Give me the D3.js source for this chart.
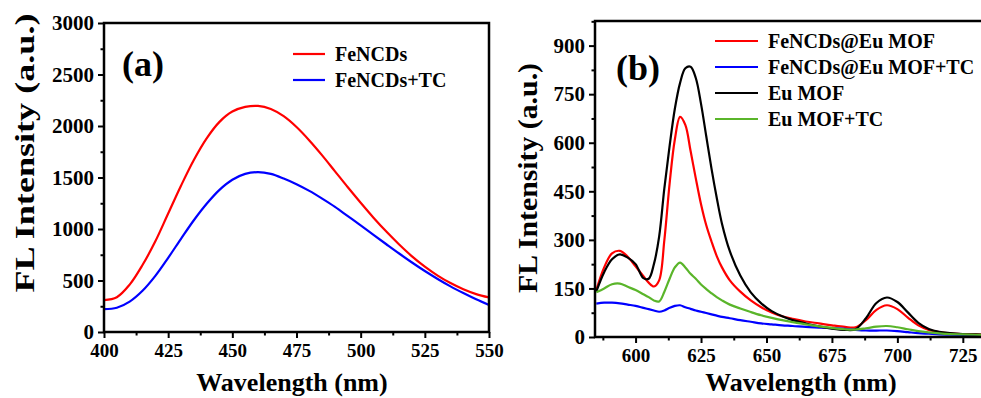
<!DOCTYPE html>
<html>
<head>
  <style>
    body {
      margin: 0;
      background: white;
    }
    text {
      font-family: "Times New Roman", "Liberation Serif", serif;
      font-weight: bold;
      fill: black;
    }
  </style>
</head>
<body>
  <script src="https://d3js.org/d3.v7.min.js"></script>
  <script>
    // panel (a) data
    var wlA = [400, 405, 410, 415, 420, 425, 430, 435, 440, 445, 450, 455, 460, 465, 470, 475,
               480, 485, 490, 495, 500, 505, 510, 515, 520, 525, 530, 535, 540, 545, 550];
    var feNCDs = [310, 338, 460, 650, 880, 1150, 1420, 1670, 1880, 2040, 2140, 2185, 2195, 2165, 2095, 1990,
                  1860, 1715, 1560, 1405, 1255, 1110, 975, 850, 735, 635, 548, 475, 415, 368, 335];
    var feNCDsTC = [223, 236, 295, 400, 545, 720, 905, 1085, 1245, 1380, 1478, 1535, 1552, 1535, 1490, 1435,
                    1370, 1295, 1215, 1125, 1035, 943, 852, 762, 675, 592, 515, 443, 378, 317, 262];
    var namesA = ["FeNCDs", "FeNCDs+TC"];
    var colorsA = ["#ff0000", "#0000ff"];
    var xTicksA = [400, 425, 450, 475, 500, 525, 550];
    var yTicksA = [0, 500, 1000, 1500, 2000, 2500, 3000];

    // panel (b) data
    var wlB = [585, 588, 591, 594, 597, 600, 603, 605, 607, 609, 611, 613, 615, 617, 619, 621, 623, 625,
               627, 629, 631, 633, 636, 640, 644, 648, 652, 656, 660, 665, 670, 675, 680, 684, 688, 692,
               696, 700, 704, 708, 712, 716, 720, 725, 730, 735];
    var euRed = [145, 215, 258, 266, 248, 218, 188, 168, 156, 175, 300, 474, 610, 680, 655, 575, 490, 410,
                 345, 295, 250, 215, 175, 140, 113, 92, 76, 64, 56, 48, 42, 36, 31, 30, 52, 84,
                 98, 86, 60, 36, 22, 15, 11, 9, 8, 7];
    var euRedTC = [103, 106, 106, 104, 100, 96, 90, 86, 82, 78, 82, 90, 96, 98, 92, 87, 82, 78,
                   74, 70, 66, 62, 58, 52, 47, 42, 39, 36, 34, 31, 29, 27, 25, 22, 20, 20,
                   20, 18, 15, 12, 10, 8, 7, 6, 5, 5];
    var euMOF = [140, 200, 240, 255, 245, 225, 182, 180, 225, 310, 460, 590, 705, 785, 830, 835, 800, 720,
                 620, 520, 430, 350, 265, 190, 138, 104, 80, 64, 52, 42, 33, 26, 22, 24, 58, 105,
                 122, 108, 76, 44, 25, 16, 12, 9, 8, 7];
    var euMOFTC = [138, 150, 163, 165, 155, 145, 132, 123, 113, 110, 140, 180, 215, 230, 215, 195, 180, 162,
                   148, 135, 123, 113, 100, 88, 77, 67, 59, 52, 46, 39, 33, 28, 24, 23, 27, 32,
                   34, 30, 24, 18, 14, 11, 9, 8, 7, 6];
    var namesB = ["FeNCDs@Eu MOF", "FeNCDs@Eu MOF+TC", "Eu MOF", "Eu MOF+TC"];
    var colorsB = ["#ff0000", "#0000ff", "#000000", "#5ab52a"];
    var xTicksB = [600, 625, 650, 675, 700, 725];
    var yTicksB = [0, 150, 300, 450, 600, 750, 900];

    var svg = d3.select("body").append("svg")
        .attr("width", 981).attr("height", 398);
    svg.append("rect").attr("width", 981).attr("height", 398).attr("fill", "white");

    function panel(opt) {
      var x = d3.scaleLinear().domain(opt.xDomain).range([opt.left, opt.right]);
      var y = d3.scaleLinear().domain(opt.yDomain).range([opt.bottom, opt.top]);
      var g = svg.append("g");

      g.append("clipPath").attr("id", opt.id)
        .append("rect")
        .attr("x", opt.left).attr("y", opt.top)
        .attr("width", opt.right - opt.left).attr("height", opt.bottom - opt.top);

      // minor ticks
      var xMinor = opt.xTicks.map(d => d + opt.xStep / 2).concat([opt.xTicks[0] - opt.xStep / 2])
        .filter(d => d > opt.xDomain[0] && d < opt.xDomain[1]);
      var yMinor = opt.yTicks.map(d => d + opt.yStep / 2).filter(d => d < opt.yDomain[1]);

      g.append("g").attr("transform", "translate(0," + opt.bottom + ")")
        .attr("class", "xaxis")
        .call(d3.axisBottom(x).tickValues(opt.xTicks).tickSize(6).tickPadding(6).tickFormat(d3.format("d")));
      g.append("g").attr("transform", "translate(0," + opt.bottom + ")")
        .call(d3.axisBottom(x).tickValues(xMinor).tickSize(3.5).tickFormat(""));
      g.append("g").attr("transform", "translate(" + opt.left + ",0)")
        .attr("class", "yaxis")
        .call(d3.axisLeft(y).tickValues(opt.yTicks).tickSize(6).tickPadding(4).tickFormat(d3.format("d")));
      g.append("g").attr("transform", "translate(" + opt.left + ",0)")
        .call(d3.axisLeft(y).tickValues(yMinor).tickSize(3.5).tickFormat(""));

      g.selectAll(".domain").remove();
      g.selectAll(".tick line").attr("stroke", "black").attr("stroke-width", 2);
      g.selectAll(".tick text")
        .style("font-family", "'Times New Roman', 'Liberation Serif', serif")
        .style("font-weight", "bold");
      g.selectAll(".xaxis .tick text").style("font-size", "19px");
      g.selectAll(".yaxis .tick text").style("font-size", "21px");

      // curves
      var line = d3.line()
        .x(d => x(d[0])).y(d => y(d[1]))
        .curve(d3.curveCatmullRom.alpha(0.5));
      opt.series.forEach((s, i) => {
        g.append("path")
          .datum(opt.wl.map((w, j) => [w, s[j]]))
          .attr("clip-path", "url(#" + opt.id + ")")
          .attr("fill", "none")
          .attr("stroke", opt.colors[i])
          .attr("stroke-width", 2.2)
          .attr("d", line);
      });

      // frame
      g.append("rect")
        .attr("x", opt.left).attr("y", opt.top)
        .attr("width", opt.right - opt.left).attr("height", opt.bottom - opt.top)
        .attr("fill", "none").attr("stroke", "black").attr("stroke-width", 2.5);

      // legend
      opt.names.forEach((n, i) => {
        var ly = opt.legY + i * opt.legGap;
        g.append("line")
          .attr("x1", opt.legX).attr("x2", opt.legX + opt.legLen)
          .attr("y1", ly).attr("y2", ly)
          .attr("stroke", opt.colors[i]).attr("stroke-width", 2.2);
        g.append("text")
          .attr("x", opt.legX + opt.legLen + 10).attr("y", ly + 7)
          .style("font-size", "20px")
          .text(n);
      });

      // panel label
      g.append("text")
        .attr("x", opt.labX).attr("y", opt.labY)
        .style("font-size", "36px")
        .text(opt.label);

      // axis titles
      g.append("text")
        .attr("x", opt.xTitleX).attr("y", 391)
        .attr("text-anchor", "middle")
        .style("font-size", "26px")
        .text("Wavelength (nm)");
      g.append("text")
        .attr("transform", "translate(" + opt.yTitleX + "," + opt.yTitleY + ") rotate(-90)")
        .attr("text-anchor", "middle")
        .attr("textLength", opt.yTitleLen)
        .attr("lengthAdjust", "spacingAndGlyphs")
        .style("font-size", "27px")
        .text("FL Intensity (a.u.)");
    }

    panel({
      id: "clipA", left: 104, right: 489, top: 23, bottom: 332,
      xDomain: [400, 550], yDomain: [0, 3000], xStep: 25, yStep: 500,
      xTicks: xTicksA, yTicks: yTicksA,
      wl: wlA, series: [feNCDs, feNCDsTC], names: namesA, colors: colorsA,
      legX: 293, legY: 54, legGap: 26, legLen: 32,
      label: "(a)", labX: 122, labY: 76,
      xTitleX: 292, yTitleX: 34, yTitleY: 153, yTitleLen: 279
    });

    panel({
      id: "clipB", left: 595, right: 989, top: 21, bottom: 337,
      xDomain: [584.5, 735], yDomain: [0, 976], xStep: 25, yStep: 150,
      xTicks: xTicksB, yTicks: yTicksB,
      wl: wlB, series: [euRed, euRedTC, euMOF, euMOFTC], names: namesB, colors: colorsB,
      legX: 715, legY: 41, legGap: 26, legLen: 43,
      label: "(b)", labX: 616, labY: 80,
      xTitleX: 801, yTitleX: 537, yTitleY: 178, yTitleLen: 230
    });
  </script>
</body>
</html>
